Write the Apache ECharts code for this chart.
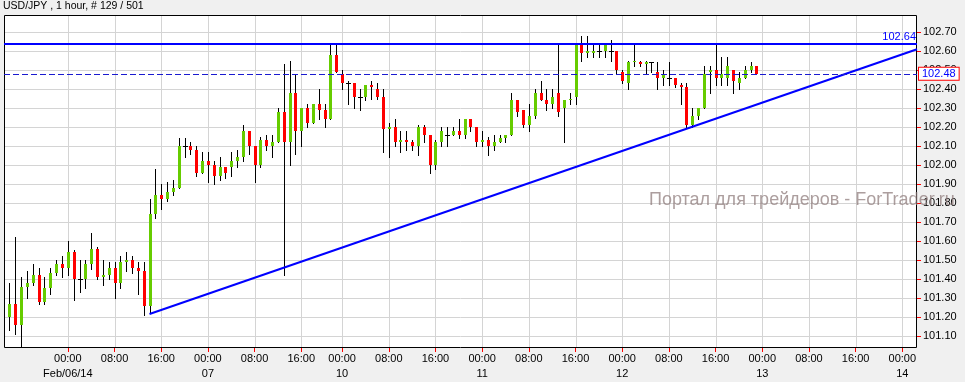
<!DOCTYPE html>
<html>
<head>
<meta charset="utf-8">
<script src="https://cdn.jsdelivr.net/npm/echarts@6/dist/echarts.min.js"></script>
<style>
html,body{margin:0;padding:0;background:#f0f0f0;}
#c{width:965px;height:382px;}
</style>
</head>
<body>
<div id="c"></div>
<script>
// ---- data (USD/JPY, 1 hour bars; bar 0 = Feb/06/14 00:00) ----
const firstBar = -10;
const opens = [
101.20,101.27,101.16,101.36,101.38,101.42,101.28,101.35,101.43,101.48,
101.46,101.54,101.40,101.40,101.48,101.56,101.41,101.42,101.46,101.38,
101.49,101.50,101.46,101.44,101.26,101.74,101.84,101.82,101.86,101.88,
102.10,102.10,102.08,101.96,102.02,102.00,101.94,101.99,101.99,102.02,
102.04,102.18,102.10,102.00,102.13,102.10,102.12,102.28,102.12,102.38,
102.18,102.30,102.22,102.32,102.29,102.24,102.58,102.48,102.43,102.43,
102.36,102.36,102.42,102.40,102.36,102.19,102.20,102.12,102.13,102.12,
102.10,102.20,102.16,102.00,102.12,102.16,102.16,102.18,102.16,102.24,
102.20,102.12,102.13,102.10,102.12,102.14,102.16,102.34,102.29,102.21,
102.26,102.38,102.34,102.32,102.38,102.30,102.34,102.36,102.63,102.59,
102.59,102.60,102.60,102.60,102.60,102.49,102.43,102.54,102.54,102.53,
102.54,102.49,102.46,102.46,102.46,102.42,102.41,102.21,102.26,102.30,
102.49,102.50,102.46,102.46,102.50,102.43,102.46,102.50,102.52];
const highs = [
101.38,101.62,101.41,101.44,101.48,101.46,101.41,101.46,101.50,101.52,
101.60,101.55,101.50,101.50,101.64,101.57,101.50,101.49,101.49,101.52,
101.54,101.52,101.49,101.49,101.82,101.98,101.90,101.91,101.92,102.14,
102.14,102.12,102.10,102.07,102.07,102.02,102.04,101.99,102.07,102.08,
102.21,102.18,102.10,102.15,102.16,102.16,102.30,102.53,102.55,102.48,
102.30,102.32,102.32,102.40,102.32,102.63,102.63,102.50,102.44,102.43,
102.40,102.42,102.44,102.43,102.40,102.22,102.24,102.18,102.18,102.13,
102.21,102.21,102.16,102.13,102.20,102.20,102.20,102.24,102.24,102.24,
102.20,102.18,102.15,102.16,102.16,102.16,102.38,102.34,102.29,102.32,
102.40,102.44,102.40,102.40,102.64,102.34,102.38,102.63,102.68,102.68,
102.64,102.64,102.64,102.66,102.60,102.50,102.55,102.63,102.55,102.55,
102.54,102.54,102.50,102.54,102.46,102.43,102.43,102.30,102.30,102.52,
102.52,102.63,102.57,102.57,102.50,102.49,102.52,102.54,102.52];
const lows = [
101.13,101.11,101.04,101.30,101.37,101.27,101.27,101.32,101.42,101.41,
101.42,101.29,101.33,101.35,101.45,101.40,101.37,101.40,101.30,101.35,
101.44,101.43,101.32,101.21,101.22,101.72,101.77,101.81,101.84,101.88,
102.04,102.06,101.94,101.96,101.91,101.90,101.92,101.93,101.94,101.99,
102.02,102.06,101.91,101.99,102.08,102.04,102.12,101.42,102.00,102.06,
102.10,102.20,102.22,102.24,102.20,102.24,102.49,102.40,102.32,102.30,
102.29,102.34,102.35,102.35,102.07,102.04,102.10,102.07,102.08,102.08,
102.05,102.12,101.96,101.98,102.10,102.10,102.16,102.14,102.14,102.18,
102.10,102.10,102.05,102.08,102.12,102.12,102.16,102.26,102.20,102.18,
102.25,102.34,102.29,102.30,102.26,102.12,102.32,102.32,102.55,102.57,
102.57,102.57,102.57,102.55,102.48,102.43,102.40,102.52,102.52,102.48,
102.49,102.40,102.42,102.42,102.41,102.32,102.20,102.20,102.24,102.30,
102.38,102.42,102.42,102.42,102.38,102.40,102.46,102.49,102.48];
const closes = [
101.27,101.16,101.36,101.38,101.42,101.28,101.35,101.43,101.48,101.46,
101.54,101.40,101.40,101.48,101.56,101.41,101.42,101.46,101.38,101.49,
101.50,101.46,101.44,101.26,101.74,101.84,101.82,101.86,101.88,102.10,
102.10,102.08,101.96,102.02,102.00,101.94,101.99,101.96,102.02,102.04,
102.18,102.10,102.00,102.13,102.10,102.12,102.28,102.12,102.38,102.18,
102.30,102.22,102.32,102.29,102.24,102.58,102.49,102.43,102.43,102.36,
102.36,102.42,102.41,102.36,102.19,102.20,102.12,102.13,102.12,102.10,
102.20,102.16,102.00,102.12,102.18,102.16,102.18,102.16,102.24,102.20,
102.12,102.13,102.10,102.12,102.14,102.16,102.34,102.28,102.21,102.26,
102.38,102.34,102.32,102.36,102.28,102.34,102.35,102.63,102.59,102.60,
102.60,102.60,102.63,102.60,102.50,102.44,102.54,102.55,102.53,102.54,
102.54,102.46,102.48,102.46,102.42,102.41,102.21,102.26,102.30,102.48,
102.50,102.46,102.48,102.52,102.44,102.46,102.50,102.52,102.48];

// axis ticks / labels
const priceTicks = [101.1,101.2,101.3,101.4,101.5,101.6,101.7,101.8,101.9,102.0,102.1,102.2,102.3,102.4,102.5,102.6,102.7];
const timeTickBars = [0,8,16,24,32,40,47,55,63,71,79,87,95,103,111,119,127,135,143];
const timeTickLabels = ['00:00','08:00','16:00','00:00','08:00','16:00','00:00','08:00','16:00','00:00','08:00','16:00','00:00','08:00','16:00','00:00','08:00','16:00','00:00'];
const dateTickLabels = ['Feb/06/14','','','07','','','10','','','11','','','12','','','13','','','14'];

// drawn lines
const resistanceLevel = 102.64;
const lastPrice = 102.48;
const trendLine = [[14, 101.216], [145.52, 102.609]];

const xMin = -10.94, xMax = 145.52;
const yMin = 101.0368, yMax = 102.7895;

const candleData = opens.map((o, k) => [firstBar + k, o, highs[k], lows[k], closes[k]]);
// frame rows: [x, y, kind]  0 = plot background, 1 = horizontal grid, 2 = vertical grid, 3 = plot border
const frameData = [[xMin, yMin, 0]]
  .concat(priceTicks.map(p => [xMin, p, 1]))
  .concat(timeTickBars.map(b => [b, yMin, 2]))
  .concat([[xMin, yMin, 3]]);

const FONT = 'Liberation Sans, Arial, sans-serif';
const GRID_COLOR = '#d4d4d4';

function renderFrame(params, api) {
  const kind = api.value('kind');
  const tl = api.coord([xMin, yMax]), br = api.coord([xMax, yMin]);
  if (kind === 0) {
    return {type: 'rect', z2: -20, shape: {x: tl[0], y: tl[1], width: br[0] - tl[0], height: br[1] - tl[1]}, style: {fill: '#ffffff', stroke: null}};
  }
  if (kind === 3) {
    const x0 = Math.round(tl[0]) + 0.5, y0 = Math.round(tl[1]) + 0.5;
    const x1 = Math.round(br[0]) - 0.5, y1 = Math.round(br[1]) - 0.5;
    return {type: 'rect', z2: 20, shape: {x: x0, y: y0, width: x1 - x0, height: y1 - y0}, style: {fill: null, stroke: '#000000', lineWidth: 1}};
  }
  if (kind === 1) {
    const p = api.value('y');
    const y = Math.round(api.coord([xMin, p])[1]) + 0.5;
    return {type: 'line', z2: -10, shape: {x1: tl[0], y1: y, x2: br[0], y2: y}, style: {stroke: GRID_COLOR, lineWidth: 1}};
  }
  const v = api.value('x');
  const x = Math.round(api.coord([v, yMin])[0]) + 0.5;
  return {type: 'line', z2: -10, shape: {x1: x, y1: tl[1], x2: x, y2: br[1]}, style: {stroke: GRID_COLOR, lineWidth: 1}};
}

function renderCandle(params, api) {
  const i = api.value(0), o = api.value(1), h = api.value(2), l = api.value(3), c = api.value(4);
  const pH = api.coord([i, h]), pL = api.coord([i, l]);
  const pO = api.coord([i, o]), pC = api.coord([i, c]);
  const x = Math.round(pH[0]) + 0.5;
  const children = [{
    type: 'line',
    shape: {x1: x, y1: Math.round(pH[1]), x2: x, y2: Math.round(pL[1]) + 1},
    style: {stroke: '#000', lineWidth: 1}
  }];
  if (Math.abs(c - o) < 1e-9) {
    const y = Math.round(pO[1]) + 0.5;
    children.push({type: 'line', shape: {x1: x - 2.5, y1: y, x2: x + 2.5, y2: y}, style: {stroke: '#000', lineWidth: 1}});
  } else {
    const y1 = Math.round(Math.min(pO[1], pC[1]));
    const y2 = Math.round(Math.max(pO[1], pC[1]));
    children.push({
      type: 'rect',
      shape: {x: x - 1.5, y: y1, width: 3, height: Math.max(1, y2 - y1)},
      style: {fill: c > o ? '#66cc00' : '#ff0000', stroke: null}
    });
  }
  return {type: 'group', children};
}

const chart = echarts.init(document.getElementById('c'), null, {renderer: 'canvas', width: 965, height: 382});
chart.setOption({
  animation: false,
  backgroundColor: '#f0f0f0',
  grid: {left: 4, right: 48, top: 15, bottom: 34, show: false},
  xAxis: {
    type: 'value', min: xMin, max: xMax,
    axisLine: {show: false, onZero: false},
    splitLine: {show: false},
    axisTick: {show: true, customValues: timeTickBars, length: 4, lineStyle: {color: '#ff0000'}},
    axisLabel: {
      customValues: timeTickBars,
      color: '#000', fontFamily: FONT, fontSize: 11, lineHeight: 15.5, margin: 3,
      formatter: function (v) {
        const k = timeTickBars.indexOf(v);
        if (k < 0) return '';
        return dateTickLabels[k] ? timeTickLabels[k] + '\n' + dateTickLabels[k] : timeTickLabels[k];
      }
    }
  },
  yAxis: {
    type: 'value', position: 'right', min: yMin, max: yMax, scale: true,
    axisLine: {show: false, onZero: false},
    splitLine: {show: false},
    axisTick: {show: true, customValues: priceTicks, length: 4, lineStyle: {color: '#ff0000'}},
    axisLabel: {
      customValues: priceTicks,
      color: '#000', fontFamily: FONT, fontSize: 11, margin: 6,
      formatter: v => v.toFixed(2)
    }
  },
  graphic: [
    {type: 'text', left: 3, top: 1, style: {text: 'USD/JPY , 1 hour, # 129 / 501', fill: '#000', font: '10.5px ' + FONT}},
    {type: 'text', left: 649, top: 191, z: 100, style: {text: 'Портал для трейдеров - ForTrader.ru', fill: 'rgba(140,120,120,0.72)', font: '18px ' + FONT}}
  ],
  series: [
    {
      type: 'custom', name: 'frame', renderItem: renderFrame, silent: true,
      dimensions: ['x', 'y', 'kind'], encode: {x: 'x', y: 'y'},
      data: frameData, z: 2
    },
    {
      type: 'custom', name: 'USD/JPY', renderItem: renderCandle, clip: true,
      encode: {x: 0, y: [1, 2, 3, 4]},
      data: candleData, z: 2
    },
    {
      type: 'line', name: 'trend', data: trendLine, symbol: 'none', z: 4,
      lineStyle: {color: '#0000ff', width: 2},
      markLine: {
        silent: true, symbol: ['none', 'none'], animation: false,
        data: [
          {yAxis: resistanceLevel, lineStyle: {color: '#0000ff', width: 2, type: 'solid'},
           label: {show: true, position: 'insideEndTop', distance: [1, 1], formatter: resistanceLevel.toFixed(2), color: '#0000ff', fontFamily: FONT, fontSize: 11}},
          {yAxis: lastPrice, lineStyle: {color: '#1a1ad0', width: 1, type: [6, 3]},
           label: {show: true, position: 'end', distance: 2, formatter: lastPrice.toFixed(2), color: '#0000ff', fontFamily: FONT, fontSize: 11,
                   backgroundColor: '#ffffff', borderColor: '#ff0000', borderWidth: 1, padding: [1, 3, 0, 3]}}
        ]
      }
    }
  ]
});
</script>
</body>
</html>
